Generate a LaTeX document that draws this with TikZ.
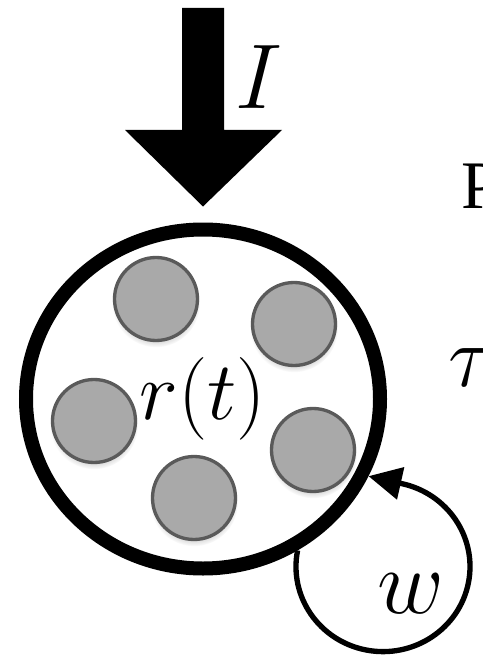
\RequirePackage{fix-cm}
\documentclass[tikz,border=0pt]{standalone}
\usepackage{fontspec}
\setmainfont{Liberation Serif}
\usetikzlibrary{shapes.geometric,arrows.meta,shadows,calc}
\definecolor{unitfill}{HTML}{A9A9A9}
\definecolor{unitedge}{HTML}{5A5A5A}
\begin{document}
\begin{tikzpicture}[x=0.75pt,y=-0.75pt,
  pop/.style={ellipse,draw=black,line width=10.5pt,fill=white,minimum width=265.5pt,minimum height=254.25pt,inner sep=0pt},
  unit/.style={circle,draw=unitedge,fill=unitfill,line width=2.5pt,minimum size=62.25pt,inner sep=0pt,
    circular drop shadow={shadow xshift=0pt,shadow yshift=-3pt,shadow scale=1.06,opacity=0.3}},
  lbl/.style={inner sep=0pt,font=\fontsize{69}{69}\selectfont},
  feedback/.style={line width=4pt,-{Triangle[length=24.75pt,width=24pt]}},
]
\useasboundingbox (0,0) rectangle (482,656);
\node[pop,font=\fontsize{62}{62}\selectfont] (pop) at (203,399) {$r(t)$};
\node[unit] (n1) at (156,299) {};
\node[unit] (n2) at (294,324) {};
\node[unit] (n3) at (94,421) {};
\node[unit] (n4) at (313,450) {};
\node[unit] (n5) at (194,498) {};
% input arrow
\coordinate (Itop) at (203,8);
\coordinate (Itip) at ($(pop.north)+(0,-16)$);
\fill ($(Itop)+(-21,0)$) -- ($(Itop)+(21,0)$) -- ($(Itop)+(21,122)$) -- ($(Itop)+(79,122)$)
  -- (Itip) -- ($(Itop)+(-78,122)$) -- ($(Itop)+(-21,122)$) -- cycle;
\node[lbl] (I) at (259,77) {$I$};
% recurrent loop
\draw[feedback] (pop.-58) arc[start angle=191,end angle=-78,x radius=87,y radius=85] -- (pop.-25);
\node[lbl] (w) at (411,594) {$w$};
% cut-off text at right
\node[inner sep=0pt,anchor=base west,font=\fontsize{51}{51}\selectfont] (P) at (461,208) {P};
\node[inner sep=0pt,anchor=base west,font=\fontsize{66}{66}\selectfont] (tau) at (448,386) {$\tau$};
\end{tikzpicture}
\end{document}
